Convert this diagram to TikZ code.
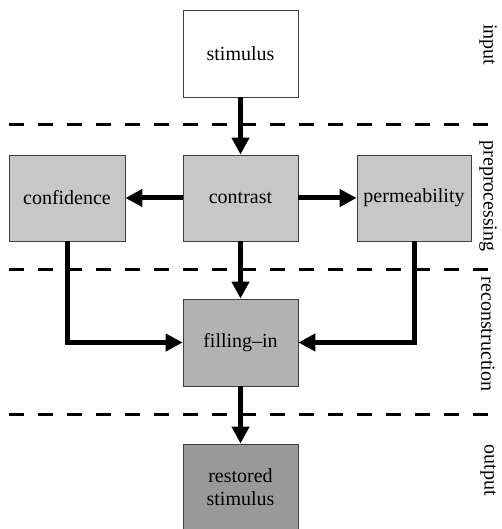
\documentclass[tikz,border=0pt]{standalone}
\usepackage{fontspec}
\setmainfont{Liberation Serif}
\usetikzlibrary{arrows.meta}

\begin{document}
\begin{tikzpicture}[x=1pt,y=-1pt,
  box/.style={draw=black!75,line width=0.8pt,minimum width=115pt,minimum height=87pt,
    inner sep=0pt,align=center,font=\fontsize{20}{23}\selectfont},
  arr/.style={line width=5pt,-{Triangle[width=17pt,length=17pt]}},
  sep/.style={line width=3pt,dash pattern=on 15pt off 14pt},
  stage/.style={rotate=-90,font=\fontsize{20}{23}\selectfont}]
\useasboundingbox (0,0) rectangle (501,529);
% stage borders
\draw[sep] (9,125) -- (493,125);
\draw[sep] (9,269) -- (493,269);
\draw[sep] (9,414) -- (493,414);
% stage names
\node[stage] (input) at (488,45) {input};
\node[stage] (pre) at (488,196) {preprocessing};
\node[stage] (rec) at (488,334) {reconstruction};
\node[stage] (out) at (488,470) {output};
% boxes
\node[box,fill=white] (stimulus) at (240.5,53.5) {stimulus};
\node[box,fill=black!22,minimum width=116pt,minimum height=86pt] (confidence) at (67,198) {confidence};
\node[box,fill=black!22,minimum height=86pt] (contrast) at (240.5,198) {contrast};
\node[box,fill=black!22,minimum width=114pt,minimum height=86pt] (permeability) at (414,198) {permeability};
\node[box,fill=black!30] (filling) at (240.5,342.5) {filling--in};
\node[box,fill=black!40] (restored) at (240.5,487.5) {restored\\stimulus};
% arrows
\draw[arr] (stimulus) -- (contrast);
\draw[arr] (contrast) -- (confidence);
\draw[arr] (contrast) -- (permeability);
\draw[arr] (contrast) -- (filling);
\draw[arr] (confidence.south) |- (filling.west);
\draw[arr] (permeability.south) |- (filling.east);
\draw[arr] (filling) -- (restored);
\end{tikzpicture}
\end{document}
